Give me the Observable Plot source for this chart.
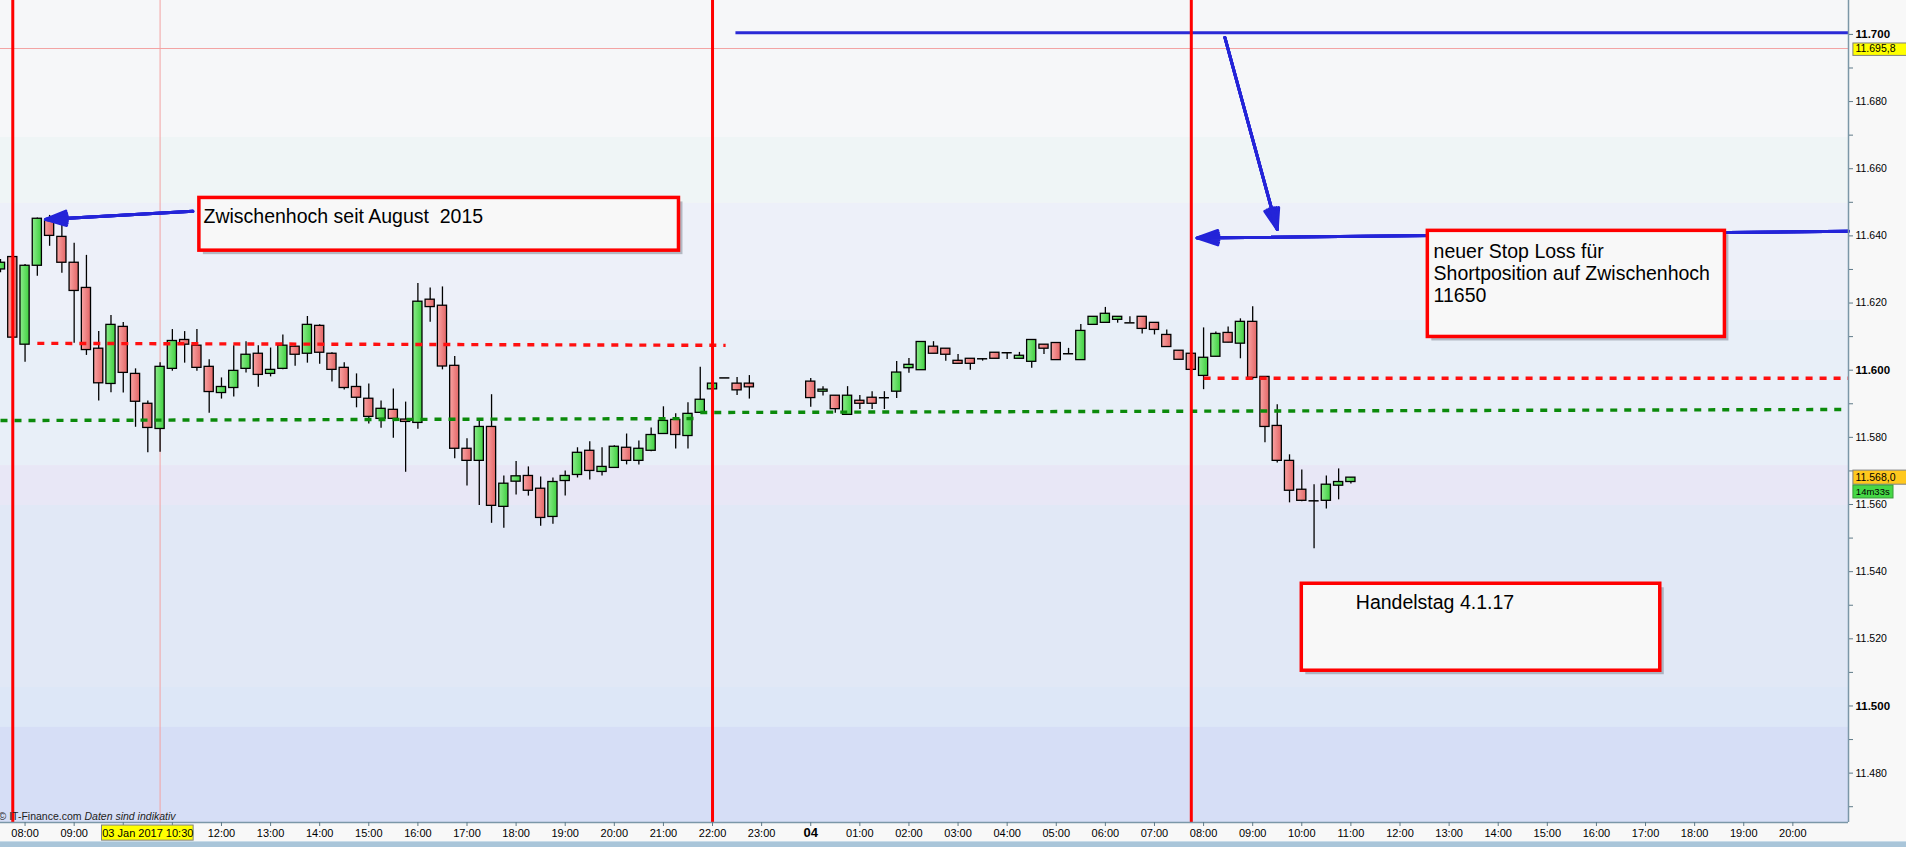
<!DOCTYPE html>
<html><head><meta charset="utf-8">
<script src="https://cdn.jsdelivr.net/npm/d3@7"></script>
<script src="https://cdn.jsdelivr.net/npm/@observablehq/plot@0.6"></script>
<style>
html,body{margin:0;padding:0;background:#f8f8f8;overflow:hidden}
#strip{height:6px;background:#a9c5d9;border-top:1px solid #c8dbe8;box-sizing:border-box}
</style></head><body><div id="chart"></div><div id="strip"></div>
<script>
const parse = d3.timeParse("%Y-%m-%d %H:%M");

// ---- candle data (15-minute bars, start time) ----
const candleTime = [
"2017-01-03 07:15","2017-01-03 07:30","2017-01-03 07:45","2017-01-03 08:00","2017-01-03 08:15","2017-01-03 08:30","2017-01-03 08:45","2017-01-03 09:00","2017-01-03 09:15","2017-01-03 09:30",
"2017-01-03 09:45","2017-01-03 10:00","2017-01-03 10:15","2017-01-03 10:30","2017-01-03 10:45","2017-01-03 11:00","2017-01-03 11:15","2017-01-03 11:30","2017-01-03 11:45","2017-01-03 12:00",
"2017-01-03 12:15","2017-01-03 12:30","2017-01-03 12:45","2017-01-03 13:00","2017-01-03 13:15","2017-01-03 13:30","2017-01-03 13:45","2017-01-03 14:00","2017-01-03 14:15","2017-01-03 14:30",
"2017-01-03 14:45","2017-01-03 15:00","2017-01-03 15:15","2017-01-03 15:30","2017-01-03 15:45","2017-01-03 16:00","2017-01-03 16:15","2017-01-03 16:30","2017-01-03 16:45","2017-01-03 17:00",
"2017-01-03 17:15","2017-01-03 17:30","2017-01-03 17:45","2017-01-03 18:00","2017-01-03 18:15","2017-01-03 18:30","2017-01-03 18:45","2017-01-03 19:00","2017-01-03 19:15","2017-01-03 19:30",
"2017-01-03 19:45","2017-01-03 20:00","2017-01-03 20:15","2017-01-03 20:30","2017-01-03 20:45","2017-01-03 21:00","2017-01-03 21:15","2017-01-03 21:30","2017-01-03 21:45","2017-01-03 22:00",
"2017-01-03 22:15","2017-01-03 22:30","2017-01-03 23:45","2017-01-04 00:00","2017-01-04 00:15","2017-01-04 00:30","2017-01-04 00:45","2017-01-04 01:00","2017-01-04 01:15","2017-01-04 01:30",
"2017-01-04 01:45","2017-01-04 02:00","2017-01-04 02:15","2017-01-04 02:30","2017-01-04 02:45","2017-01-04 03:00","2017-01-04 03:15","2017-01-04 03:30","2017-01-04 03:45","2017-01-04 04:00",
"2017-01-04 04:15","2017-01-04 04:30","2017-01-04 04:45","2017-01-04 05:00","2017-01-04 05:15","2017-01-04 05:30","2017-01-04 05:45","2017-01-04 06:00","2017-01-04 06:15","2017-01-04 06:30",
"2017-01-04 06:45","2017-01-04 07:00","2017-01-04 07:15","2017-01-04 07:30","2017-01-04 07:45","2017-01-04 08:00","2017-01-04 08:15","2017-01-04 08:30","2017-01-04 08:45","2017-01-04 09:00",
"2017-01-04 09:15","2017-01-04 09:30","2017-01-04 09:45","2017-01-04 10:00","2017-01-04 10:15","2017-01-04 10:30","2017-01-04 10:45"];
const open = [
11630.0,11633.7,11607.6,11631.1,11644.6,11639.7,11632.0,11624.5,11606.4,11595.9,
11612.9,11598.9,11590.0,11582.5,11600.4,11609.0,11607.3,11601.0,11593.2,11594.7,
11600.4,11604.9,11598.9,11600.4,11607.0,11604.9,11613.2,11604.9,11600.7,11595.0,
11591.5,11585.5,11588.2,11585.3,11584.3,11621.0,11619.2,11601.3,11576.6,11573.0,
11583.1,11559.3,11566.8,11568.5,11564.7,11556.3,11567.0,11568.8,11576.0,11569.7,
11570.9,11576.9,11573.0,11576.0,11581.0,11585.2,11580.4,11587.3,11594.3,11597.7,
11596.0,11596.0,11596.6,11593.6,11592.4,11586.7,11590.9,11591.8,11591.8,11593.6,
11600.6,11600.0,11607.0,11606.4,11602.8,11603.4,11603.4,11605.2,11605.2,11603.4,
11602.5,11607.6,11608.1,11604.9,11603.0,11613.5,11614.1,11615.0,11614.1,11615.9,
11614.1,11610.5,11605.8,11604.9,11598.3,11604.0,11611.1,11607.9,11614.4,11598.0,
11583.4,11573.0,11564.4,11561.1,11561.1,11565.6,11566.7];
const high = [
11633.0,11634.0,11631.5,11645.3,11646.1,11643.1,11637.8,11634.2,11611.5,11616.3,
11614.2,11600.4,11590.8,11602.2,11612.1,11611.5,11612.1,11603.1,11597.7,11607.3,
11608.5,11607.3,11606.6,11610.5,11607.3,11616.0,11613.5,11605.2,11602.2,11598.9,
11595.9,11590.8,11594.4,11590.5,11625.8,11624.5,11624.8,11604.1,11579.6,11585.5,
11592.7,11568.5,11572.8,11571.2,11568.2,11567.9,11570.0,11576.9,11578.7,11576.9,
11577.5,11581.0,11578.9,11582.8,11589.1,11587.0,11590.3,11600.9,11596.0,11597.7,
11597.8,11598.4,11597.5,11595.1,11592.4,11595.1,11592.5,11593.6,11593.6,11602.6,
11603.5,11608.4,11608.5,11606.4,11604.7,11603.4,11603.4,11605.2,11605.2,11605.3,
11609.0,11607.6,11608.1,11606.5,11613.6,11615.9,11618.7,11615.9,11615.9,11615.9,
11614.1,11612.0,11605.8,11604.9,11612.6,11611.4,11612.9,11615.3,11618.9,11598.0,
11589.7,11574.8,11570.3,11565.9,11568.5,11570.6,11568.0];
const low = [
11629.0,11609.5,11602.4,11628.0,11636.9,11628.9,11608.0,11604.4,11590.8,11593.3,
11593.2,11583.0,11575.4,11575.6,11599.7,11602.1,11599.7,11587.2,11591.4,11592.0,
11599.2,11594.9,11598.0,11600.1,11601.2,11602.1,11601.8,11596.5,11594.1,11588.8,
11584.0,11582.7,11579.7,11569.6,11582.4,11614.3,11600.1,11573.6,11565.5,11559.7,
11554.4,11552.9,11562.8,11562.5,11553.5,11554.1,11562.5,11567.9,11567.3,11568.5,
11570.9,11571.8,11571.8,11575.7,11581.0,11576.5,11576.5,11587.3,11594.3,11597.7,
11592.5,11591.4,11589.0,11592.3,11587.2,11586.7,11588.3,11588.3,11588.3,11591.6,
11599.1,11600.0,11604.9,11602.7,11601.9,11600.0,11602.7,11603.4,11603.2,11603.4,
11600.6,11604.7,11603.0,11604.9,11603.0,11613.5,11614.1,11614.0,11614.1,11610.8,
11610.5,11606.9,11603.1,11600.1,11594.2,11604.0,11608.2,11603.4,11597.1,11578.4,
11572.4,11560.5,11560.8,11546.8,11558.7,11561.4,11566.1];
const close = [
11632.0,11609.7,11631.1,11645.1,11640.0,11632.0,11623.6,11606.0,11596.1,11613.5,
11599.2,11590.6,11582.8,11601.0,11608.7,11607.6,11600.7,11593.5,11595.0,11599.8,
11604.6,11598.6,11600.1,11607.3,11604.6,11613.5,11605.2,11600.1,11594.7,11591.8,
11586.1,11588.5,11585.5,11584.6,11620.4,11618.8,11601.1,11576.6,11573.0,11583.1,
11559.6,11566.2,11568.4,11564.1,11556.0,11566.7,11568.5,11575.4,11570.0,11571.2,
11577.2,11573.0,11576.6,11580.7,11584.9,11580.7,11587.0,11591.2,11596.0,11597.7,
11594.0,11594.9,11591.7,11594.2,11588.4,11592.4,11590.0,11590.0,11591.8,11599.3,
11601.6,11608.4,11604.9,11604.6,11601.9,11601.9,11603.4,11603.4,11605.2,11604.3,
11609.0,11606.4,11603.0,11604.9,11611.7,11615.9,11616.8,11615.9,11614.1,11612.3,
11612.0,11606.9,11603.1,11600.1,11603.7,11610.8,11608.2,11614.4,11597.7,11583.1,
11573.0,11564.1,11561.1,11561.1,11565.9,11566.7,11568.0];

// ---- horizontal levels / drawings (time, price) ----
const redDashFrom  = [["2017-01-03 08:15", 11608.0], ["2017-01-04 08:00", 11597.6]];
const redDashTo    = [["2017-01-03 22:16", 11607.4], ["2017-01-04 21:08", 11597.6]];
const greenDashFrom = [["2017-01-03 07:30", 11585.0], ["2017-01-03 21:45", 11587.4]];
const greenDashTo   = [["2017-01-03 21:45", 11585.6], ["2017-01-04 21:01", 11588.3]];
const blueLevelFrom = ["2017-01-03 22:28", 11700.5];
const blueLevelTo   = ["2017-01-04 21:08", 11700.5];
const sessionLines = ["2017-01-03 07:45", "2017-01-03 22:00", "2017-01-04 07:45"];
const crossTime = "2017-01-03 10:45", crossPrice = 11695.8, crossLabel = "03 Jan 2017 10:30";
const lastPrice = 11568.0, lastLabel = "11.568,0", timerLabel = "14m33s", crossPriceLabel = "11.695,8";
const arrowFrom = [["2017-01-03 11:25", 11647.3], ["2017-01-04 08:26", 11699.1], ["2017-01-04 21:08", 11641.4]];
const arrowTo   = [["2017-01-03 08:25", 11644.9], ["2017-01-04 09:30", 11641.9], ["2017-01-04 07:52", 11639.4]];
const noteText = ["Zwischenhoch seit August\u00a0 2015", "neuer Stop Loss für\nShortposition auf Zwischenhoch\n11650", "Handelstag 4.1.17"];
const noteBoxT1 = ["2017-01-03 11:33", "2017-01-04 12:34", "2017-01-04 10:00"];
const noteBoxT2 = ["2017-01-03 21:19", "2017-01-04 18:37", "2017-01-04 17:18"];
const noteBoxP1 = [11651.3, 11641.5, 11536.4];
const noteBoxP2 = [11635.6, 11609.9, 11510.5];
const noteTextT = ["2017-01-03 11:38", "2017-01-04 12:41", "2017-01-04 11:06"];
const noteTextP = [11648.5, 11638.0, 11533.4];
const bandEdges = [11710.2, 11669.3, 11649.7, 11614.8, 11571.6, 11559.7, 11505.5, 11493.6, 11465.3];
const bandColors = ["#f6f7f9", "#eff5f6", "#edf0f9", "#e8eff8", "#e8e7f6", "#e1e8f6", "#dde7f7", "#d6def6"];
const yMinorTicks = d3.range(11470, 11701, 10);
const yLabelTicks = [11480, 11520, 11540, 11560, 11580, 11620, 11640, 11660, 11680];
const yBoldTicks = [11500, 11600, 11700];
const xTickTimes = d3.timeHour.range(parse("2017-01-03 08:00"), parse("2017-01-04 20:01"));
const xHiddenLabels = ["2017-01-03 10:00", "2017-01-03 11:00"]; // covered by the crosshair badge

const xDomain = [parse("2017-01-03 07:30"), parse("2017-01-04 21:08")];
const yDomain = [11465.3, 11710.1];

const shift = (d, m) => new Date(+d + m * 60000);
const candles = candleTime.map((t, i) => ({t: shift(parse(t), 15), o: open[i], h: high[i], l: low[i], c: close[i]}));
const up = candles.filter(d => d.c - d.o >= 0.3);
const dn = candles.filter(d => d.o - d.c >= 0.3);
const doji = candles.filter(d => Math.abs(d.c - d.o) < 0.3);
const seg = (from, to) => from.map((f, i) => ({x1: parse(f[0]), y1: f[1], x2: parse(to[i][0]), y2: to[i][1]}));
const bands = bandColors.map((c, i) => ({x1: xDomain[0], x2: xDomain[1], y1: bandEdges[i], y2: bandEdges[i + 1], fill: c}));
const notes = noteText.map((s, i) => ({text: s, x1: parse(noteBoxT1[i]), x2: parse(noteBoxT2[i]), y1: noteBoxP1[i], y2: noteBoxP2[i], tx: parse(noteTextT[i]), ty: noteTextP[i]}));
const hidden = new Set(xHiddenLabels.map(s => +parse(s)));
const fmtY = d => d3.format(",")(d).replace(",", ".");
const fmtX = d => (d.getHours() === 0 || hidden.has(+d)) ? "" : d3.timeFormat("%H:%M")(d);
const F = "Liberation Sans, Arial, sans-serif";
const FN = "Liberation Sans Narrow, Arial Narrow, Liberation Sans, sans-serif";
const arrows = seg(arrowFrom, arrowTo);
const arrowOpts = a => ({x1: "x1", y1: "y1", x2: "x2", y2: "y2", stroke: "#2424d8", strokeWidth: 3, headLength: 11, headAngle: a});

const rightBadgeT = [parse("2017-01-04 21:14"), parse("2017-01-04 22:20"), parse("2017-01-04 22:03")];

const plot = Plot.plot({
  width: 1906, height: 841,
  marginTop: 0, marginRight: 58, marginBottom: 19, marginLeft: 0,
  x: {type: "time", domain: xDomain, axis: null},
  y: {domain: yDomain, axis: null},
  style: {background: "#f8f8f8", fontFamily: F, color: "#000", overflow: "visible"},
  marks: [
    Plot.rect(bands, {x1: "x1", x2: "x2", y1: "y1", y2: "y2", fill: d => d.fill}),
    Plot.ruleY([crossPrice], {x1: xDomain[0], x2: xDomain[1], stroke: "#f3a3a3", strokeWidth: 1}),
    Plot.ruleX([parse(crossTime)], {stroke: "#f3a3a3", strokeWidth: 1}),
    Plot.ruleX(candles, {x: "t", y1: "l", y2: "h", stroke: "#000", strokeWidth: 1.3}),
    Plot.rect(up, {x1: d => shift(d.t, -5.6), x2: d => shift(d.t, 5.6), y1: "o", y2: "c", fill: "url(#gUp)", stroke: "#000", strokeWidth: 1.3}),
    Plot.rect(dn, {x1: d => shift(d.t, -5.6), x2: d => shift(d.t, 5.6), y1: "o", y2: "c", fill: "url(#gDn)", stroke: "#000", strokeWidth: 1.3}),
    Plot.ruleY(doji, {y: "o", x1: d => shift(d.t, -6.2), x2: d => shift(d.t, 6.2), stroke: "#000", strokeWidth: 1.5}),
    Plot.link(seg(greenDashFrom, greenDashTo), {x1: "x1", y1: "y1", x2: "x2", y2: "y2", stroke: "#0b8a0b", strokeWidth: 3.4, strokeDasharray: "7,7", strokeLinecap: "butt"}),
    Plot.link(seg(redDashFrom, redDashTo), {x1: "x1", y1: "y1", x2: "x2", y2: "y2", stroke: "#ff1010", strokeWidth: 3.4, strokeDasharray: "7,7", strokeLinecap: "butt"}),
    Plot.link(seg([blueLevelFrom], [blueLevelTo]), {x1: "x1", y1: "y1", x2: "x2", y2: "y2", stroke: "#2a2ad6", strokeWidth: 3}),
    Plot.ruleX(sessionLines.map(parse), {stroke: "#ff0000", strokeWidth: 3}),
    Plot.arrow(arrows, arrowOpts(38)),
    Plot.arrow(arrows, arrowOpts(26)),
    Plot.arrow(arrows, arrowOpts(14)),
    Plot.arrow(arrows, arrowOpts(4)),
    Plot.rect(notes, {x1: "x1", x2: "x2", y1: "y1", y2: "y2", fill: "#6c7480", fillOpacity: 0.45, dx: 4, dy: 4}),
    Plot.rect(notes, {x1: "x1", x2: "x2", y1: "y1", y2: "y2", fill: "#f8f8f8", stroke: "#ff0000", strokeWidth: 3.5}),
    Plot.text(notes, {x: "tx", y: "ty", text: "text", textAnchor: "start", lineAnchor: "top", lineHeight: 1.13, fontSize: 19.5, fill: "#000"}),
    // frame
    Plot.ruleY([yDomain[0]], {x1: xDomain[0], x2: xDomain[1], stroke: "#7b97a8", strokeWidth: 1.5}),
    Plot.ruleX([xDomain[1]], {stroke: "#7b97a8", strokeWidth: 1.5}),
    // axes
    Plot.axisY(yMinorTicks, {anchor: "right", tickSize: 4, tickFormat: () => "", stroke: "#5f7a88"}),
    Plot.axisY(yLabelTicks, {anchor: "right", tickSize: 0, tickPadding: 7, tickFormat: fmtY, fontSize: 10.5, fontFamily: F}),
    Plot.axisY(yBoldTicks, {anchor: "right", tickSize: 0, tickPadding: 7, tickFormat: fmtY, fontSize: 11.5, fontWeight: "bold", fontFamily: F}),
    Plot.axisX(xTickTimes, {anchor: "bottom", tickSize: 4, tickPadding: 3, stroke: "#5f7a88", tickFormat: fmtX, fontSize: 11, fontFamily: FN}),
    Plot.axisX(xTickTimes.filter(d => d.getHours() === 0), {anchor: "bottom", tickSize: 0, tickPadding: 5, tickFormat: d => d3.timeFormat("%d")(d), fontSize: 13, fontWeight: "bold", fontFamily: FN}),
    // crosshair / price badges
    Plot.rect([crossLabel], {x1: parse("2017-01-03 09:34"), x2: parse("2017-01-03 11:26"), y1: 11464.4, y2: 11459.9, fill: "#ffff00", stroke: "#808080", strokeWidth: 1}),
    Plot.text([crossLabel], {x: parse("2017-01-03 10:30"), y: 11462.1, text: d => d, fontSize: 11, fontFamily: FN, fill: "#000"}),
    Plot.rect([crossPriceLabel], {x1: rightBadgeT[0], x2: rightBadgeT[1], y1: 11697.3, y2: 11693.6, fill: "#ffff00", stroke: "#808080", strokeWidth: 1}),
    Plot.text([crossPriceLabel], {x: shift(rightBadgeT[0], 2.5), y: crossPrice, text: d => d, textAnchor: "start", fontSize: 10.5, fill: "#000"}),
    Plot.rect([lastLabel], {x1: rightBadgeT[0], x2: rightBadgeT[1], y1: lastPrice + 2.1, y2: lastPrice - 2.1, fill: "#ffc81e", stroke: "#808080", strokeWidth: 1}),
    Plot.text([lastLabel], {x: shift(rightBadgeT[0], 2.5), y: lastPrice, text: d => d, textAnchor: "start", fontSize: 10.5, fill: "#000"}),
    Plot.rect([timerLabel], {x1: rightBadgeT[0], x2: rightBadgeT[2], y1: lastPrice - 2.35, y2: lastPrice - 6.2, fill: "#46d846", stroke: "#3a9a3a", strokeWidth: 1}),
    Plot.text([timerLabel], {x: shift(rightBadgeT[0], 3), y: lastPrice - 4.3, text: d => d, textAnchor: "start", fontSize: 9.5, fill: "#000"}),
    // copyright
    Plot.text(["© IT-Finance.com"], {frameAnchor: "bottom-left", dx: -2, dy: -3, lineAnchor: "bottom", textAnchor: "start", fontSize: 10.5, fill: "#222"}),
    Plot.text(["Daten sind indikativ"], {frameAnchor: "bottom-left", dx: 84, dy: -3, lineAnchor: "bottom", textAnchor: "start", fontSize: 10.5, fontStyle: "italic", fill: "#222"})
  ]
});

const svg = d3.select(plot);
const defs = svg.insert("defs", ":first-child");
const g1 = defs.append("linearGradient").attr("id", "gUp").attr("x1", 0).attr("x2", 1).attr("y1", 0).attr("y2", 0);
g1.append("stop").attr("offset", "0%").attr("stop-color", "#8cec8c");
g1.append("stop").attr("offset", "100%").attr("stop-color", "#3fd03f");
const g2 = defs.append("linearGradient").attr("id", "gDn").attr("x1", 0).attr("x2", 1).attr("y1", 0).attr("y2", 0);
g2.append("stop").attr("offset", "0%").attr("stop-color", "#f9a3a3");
g2.append("stop").attr("offset", "100%").attr("stop-color", "#e36666");
document.getElementById("chart").appendChild(plot);
</script></body></html>
